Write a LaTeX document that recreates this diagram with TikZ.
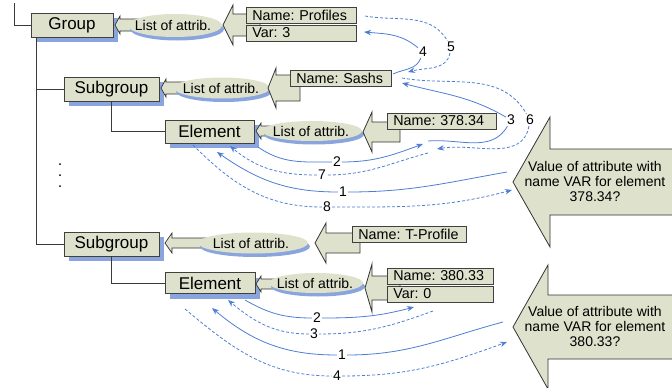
\documentclass[tikz,border=0pt]{standalone}
\usepackage{fontspec}
\setmainfont{Liberation Sans}
\usetikzlibrary{arrows.meta,shadows}
\definecolor{boxfill}{HTML}{DEE1CB}
\definecolor{shadowblue}{HTML}{8AA5DD}
\definecolor{connblue}{HTML}{4D7ED4}
\definecolor{treeline}{HTML}{3A3A3A}
\newcommand{\blockL}[7]{\draw[#1] (#2,#3) -- (#2+#4,#3+#5) -- (#2+#4,#3+#6) -- (#7,#3+#6) -- (#7,#3-#6) -- (#2+#4,#3-#6) -- (#2+#4,#3-#5) -- cycle;}
\tikzset{
  mainbox/.style={draw=black!75, line width=0.9pt, fill=boxfill, inner sep=0pt,
    font=\fontsize{17}{18}\selectfont,
    drop shadow={shadow xshift=5pt, shadow yshift=-5pt, fill=shadowblue, opacity=1}},
  namebox/.style={draw=black!75, line width=0.8pt, fill=boxfill, inner xsep=6pt, inner ysep=0pt,
    minimum height=16pt, align=left, anchor=west, font=\fontsize{14.3}{15}\selectfont},
  smallarrow/.style={draw=black!80, line width=0.7pt, fill=boxfill},
  bigarrow/.style={draw=black!80, line width=0.8pt, fill=boxfill},
  attrtext/.style={font=\fontsize{14}{15}\selectfont, inner sep=0pt},
  qtext/.style={align=center, font=\fontsize{14}{15}\selectfont, inner sep=0pt},
  tree/.style={draw=treeline, line width=0.8pt},
  conn/.style={draw=connblue, line width=0.8pt, -{Stealth[length=7pt,width=5.5pt]}},
  dconn/.style={conn, dash pattern=on 3pt off 2pt},
  lab/.style={font=\fontsize{14}{15}\selectfont, inner sep=1pt}
}
\frenchspacing
\begin{document}
\begin{tikzpicture}[x=1pt,y=1pt]
\useasboundingbox (0,0) rectangle (672,-388);
% right question arrows
\blockL{bigarrow}{513}{-182}{37}{65}{33}{680}
\blockL{bigarrow}{513}{-327}{35}{62}{32}{680}
\node[qtext] (qa) at (595,-181) {Value of attribute with\\name VAR for element\\378.34?};
\node[qtext] (qb) at (595,-326) {Value of attribute with\\name VAR for element\\380.33?};
% main boxes
\node[mainbox, minimum width=82pt, minimum height=24pt] (group) at (72,-25) {Group};
\node[mainbox, minimum width=95pt, minimum height=24pt] (sub1) at (111.5,-89) {Subgroup};
\node[mainbox, minimum width=89pt, minimum height=23pt] (el1) at (209.5,-131.5) {Element};
\node[mainbox, minimum width=95pt, minimum height=24pt] (sub2) at (111.5,-244) {Subgroup};
\node[mainbox, minimum width=90pt, minimum height=21pt] (el2) at (210,-283) {Element};
% tree lines
\coordinate (treetop) at (14,-3);
\draw[tree] (treetop) |- (group.west);
\draw[tree] ([xshift=6pt]group.south west) |- (sub1.west);
\draw[tree] ([xshift=6pt]group.south west) |- (sub2.west);
\draw[tree] (sub1.south) |- (el1.west);
\draw[tree] (sub2.south) |- (el2.west);
\fill[black] (60,-164) circle (1pt) (60,-175) circle (1pt) (60,-186) circle (1pt);
% small arrows
\blockL{smallarrow}{115}{-25}{5}{9}{6}{140}
\blockL{smallarrow}{161}{-88}{5}{9}{6}{185}
\blockL{smallarrow}{256}{-131}{5}{8}{5}{275}
\blockL{smallarrow}{165}{-243}{7}{10}{5}{210}
\blockL{smallarrow}{256}{-284}{5}{8}{5}{280}
% attribute ellipses
\fill[shadowblue] (177,-29) ellipse [x radius=47, y radius=11.5];
\fill[boxfill] (175,-25.5) ellipse [x radius=47, y radius=11.5];
\node[attrtext] (ga) at (173,-25.5) {List of attrib.};
\fill[shadowblue] (224,-91.5) ellipse [x radius=48, y radius=10.5];
\fill[boxfill] (222,-88) ellipse [x radius=48, y radius=10.5];
\node[attrtext] (s1a) at (221,-88) {List of attrib.};
\fill[shadowblue] (314,-134.5) ellipse [x radius=50, y radius=10];
\fill[boxfill] (312,-131) ellipse [x radius=50, y radius=10];
\node[attrtext] (e1a) at (311,-131) {List of attrib.};
\fill[shadowblue] (255,-246.5) ellipse [x radius=55, y radius=10.5];
\fill[boxfill] (253,-243) ellipse [x radius=55, y radius=10.5];
\node[attrtext] (s2a) at (251,-243) {List of attrib.};
\fill[shadowblue] (318,-286.5) ellipse [x radius=47, y radius=10];
\fill[boxfill] (316,-283) ellipse [x radius=47, y radius=10];
\node[attrtext] (e2a) at (315,-283) {List of attrib.};
% big attribute arrows
\blockL{bigarrow}{223}{-25}{10}{20}{11}{260}
\blockL{bigarrow}{268}{-88}{8}{20}{13}{300}
\blockL{bigarrow}{363}{-132}{9}{20}{10}{400}
\blockL{bigarrow}{315}{-243}{11}{20}{10}{360}
\blockL{bigarrow}{365}{-288}{7}{24}{12}{400}
% name boxes
\node[namebox, text width=98pt] (np) at (246,-15) {Name: Profiles};
\node[namebox, text width=98pt] (nv) at (246,-33) {Var: 3};
\node[namebox, text width=89pt] (ns) at (290,-78) {Name: Sashs};
\node[namebox, text width=97pt] (n378) at (387,-121) {Name: 378.34};
\node[namebox, text width=102pt] (nt) at (352,-234) {Name: T-Profile};
\node[namebox, text width=94pt] (n380) at (387,-276) {Name: 380.33};
\node[namebox, text width=94pt] (nv0) at (387,-294) {Var: 0};
% connectors, group 1
\coordinate (c1s) at (507,-172); \node[lab] (l1) at (343,-192) {1}; \coordinate (c1e) at (217,-152);
\draw[conn] (c1s) to[out=190,in=0] (l1) to[out=180,in=-35] (c1e);
\coordinate (c2s) at (258,-147); \node[lab] (l2) at (337,-162) {2}; \coordinate (c2e) at (423,-144);
\draw[conn] (c2s) to[out=-35,in=180] (l2) to[out=0,in=200] (c2e);
\coordinate (c3s) at (428,-141); \node[lab] (l3) at (511,-120) {3}; \coordinate (c3e) at (402,-83);
\draw[conn] (c3s) to[out=5,in=-120] (l3) to[out=150,in=-15] (c3e);
\coordinate (c4s) at (393,-74); \node[lab] (l4) at (423,-52) {4}; \coordinate (c4e) at (364,-32);
\draw[conn] (c4s) to[out=25,in=-110] (l4) to[out=140,in=-5] (c4e);
\coordinate (c5s) at (365,-16); \node[lab] (l5) at (451,-47) {5}; \coordinate (c5e) at (408,-72);
\draw[dconn] (c5s) to[out=-10,in=120] (l5) to[out=-100,in=15] (c5e);
\coordinate (c6s) at (402,-78); \node[lab] (l6) at (530,-120) {6}; \coordinate (c6e) at (437,-149);
\draw[dconn] (c6s) to[out=-10,in=120] (l6) to[out=-100,in=10] (c6e);
\coordinate (c7s) at (428,-153); \node[lab] (l7) at (322,-175) {7}; \coordinate (c7e) at (230,-146);
\draw[dconn] (c7s) to[out=195,in=0] (l7) to[out=180,in=-40] (c7e);
\coordinate (c8s) at (193,-145); \node[lab] (l8) at (327,-207) {8}; \coordinate (c8e) at (512,-190);
\draw[dconn] (c8s) to[out=-45,in=180] (l8) to[out=0,in=195] (c8e);
% connectors, group 2
\coordinate (d1s) at (503,-322); \node[lab] (m1) at (342,-355) {1}; \coordinate (d1e) at (212,-308);
\draw[conn] (d1s) to[out=195,in=0] (m1) to[out=180,in=-40] (d1e);
\coordinate (d2s) at (245,-300); \node[lab] (m2) at (317,-318) {2}; \coordinate (d2e) at (414,-307);
\draw[conn] (d2s) to[out=-30,in=180] (m2) to[out=0,in=195] (d2e);
\coordinate (d3s) at (433,-311); \node[lab] (m3) at (314,-334) {3}; \coordinate (d3e) at (228,-300);
\draw[dconn] (d3s) to[out=200,in=0] (m3) to[out=180,in=-40] (d3e);
\coordinate (d4s) at (185,-309); \node[lab] (m4) at (337,-376) {4}; \coordinate (d4e) at (507,-342);
\draw[dconn] (d4s) to[out=-40,in=180] (m4) to[out=0,in=200] (d4e);
\end{tikzpicture}
\end{document}
